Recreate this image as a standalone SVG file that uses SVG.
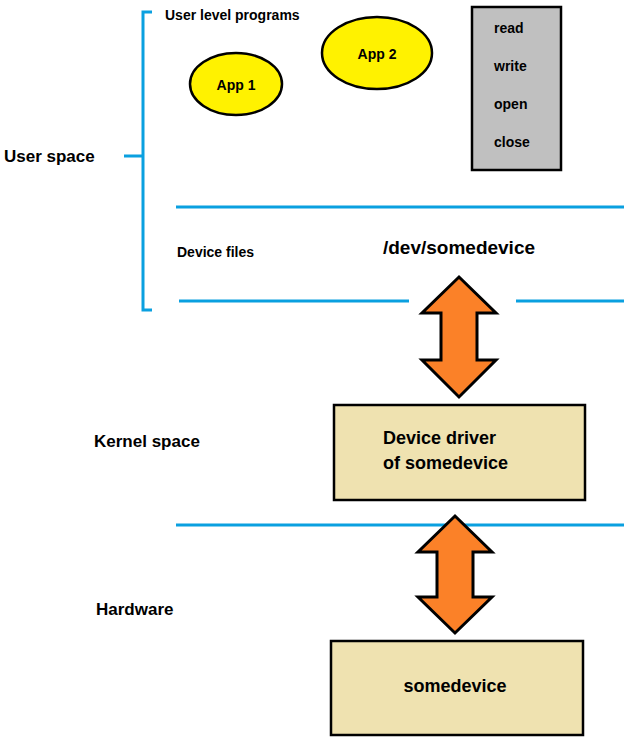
<svg xmlns="http://www.w3.org/2000/svg" width="630" height="744" viewBox="0 0 630 744">
<style>
.t{font-family:"Liberation Sans",Arial,sans-serif;font-weight:bold;fill:#000}
.bl{stroke:#0aa0e0;stroke-width:3;fill:none}
.ar{fill:#fb8128;stroke:#000;stroke-width:3;stroke-linejoin:miter}
.bx{fill:#efe2b0;stroke:#000;stroke-width:2.5}
.el{fill:#fff200;stroke:#000;stroke-width:2.5}
</style>
<rect width="630" height="744" fill="#fff"/>
<g id="connectors">
<path class="bl" d="M152,12 H143 V310 H152 M124,156 H143"/>
<path class="bl" d="M176,207 H624 M179,301 H409 M516,301 H624 M176,525 H624"/>
<path class="ar" d="M459,277 L496,313 H477 V360 H496 L459,397 L422,360 H441 V313 H422 Z"/>
<path class="ar" d="M455,516 L492,552 H473 V597 H492 L455,633 L418,597 H437 V552 H418 Z"/>
</g>
<g id="labels">
<text class="t" x="4" y="162" font-size="17">User space</text>
<text class="t" x="165" y="20" font-size="14">User level programs</text>
<text class="t" x="177" y="257" font-size="14">Device files</text>
<text class="t" x="459" y="254" font-size="19" text-anchor="middle">/dev/somedevice</text>
<text class="t" x="94" y="447" font-size="17">Kernel space</text>
<text class="t" x="96" y="615" font-size="17">Hardware</text>
</g>
<g id="app1"><ellipse class="el" cx="236" cy="84" rx="46" ry="31"/><text class="t" x="236" y="90" font-size="14" text-anchor="middle">App 1</text></g>
<g id="app2"><ellipse class="el" cx="377" cy="53" rx="55" ry="36"/><text class="t" x="377" y="59" font-size="14" text-anchor="middle">App 2</text></g>
<g id="syscalls"><rect x="472" y="7" width="89" height="163" fill="#c0c0c0" stroke="#000" stroke-width="2.5"/>
<text class="t" x="494" y="33" font-size="14">read</text>
<text class="t" x="494" y="71" font-size="14">write</text>
<text class="t" x="494" y="109" font-size="14">open</text>
<text class="t" x="494" y="147" font-size="14">close</text></g>
<g id="driver"><rect class="bx" x="334" y="405" width="251" height="95"/>
<text class="t" x="383" y="444" font-size="18">Device driver</text>
<text class="t" x="383" y="469" font-size="18">of somedevice</text></g>
<g id="device"><rect class="bx" x="331" y="641" width="252" height="94"/>
<text class="t" x="455" y="692" font-size="18" text-anchor="middle">somedevice</text></g>
</svg>
